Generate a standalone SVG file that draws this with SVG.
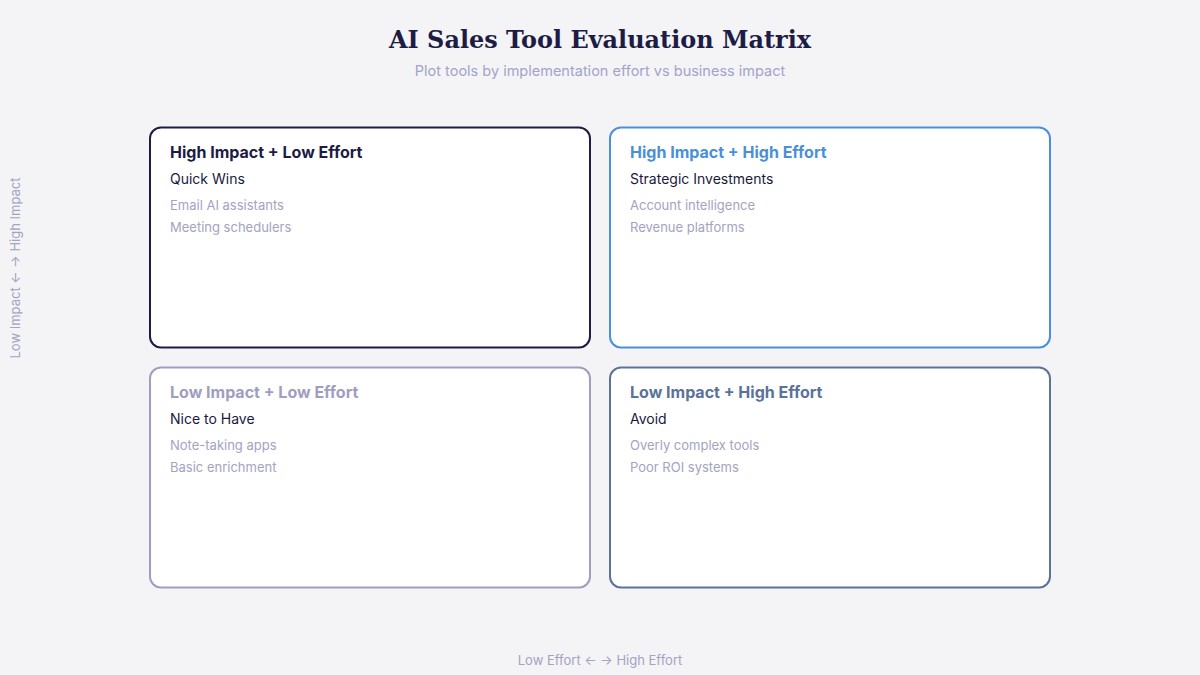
<svg xmlns="http://www.w3.org/2000/svg" width="1200" height="675" viewBox="0 0 1200 675">
  <style>
    .card { fill: #ffffff; stroke-width: 2; }
    .h { font-family: Inter, "Liberation Sans", sans-serif; font-size: 16px; font-weight: 700; }
    .sub { font-family: Inter, "Liberation Sans", sans-serif; font-size: 14px; fill: #1a1a40; }
    .item { font-family: Inter, "Liberation Sans", sans-serif; font-size: 13px; fill: #a3a3c2; }
    .axis { font-family: Inter, "Liberation Sans", sans-serif; font-size: 13px; fill: #a3a3c2; }
  </style>
  <rect x="0" y="0" width="1200" height="675" fill="#f4f4f6"/>
  <text x="600" y="48" text-anchor="middle" font-family="'DejaVu Serif', 'Liberation Serif', serif" font-size="25" font-weight="700" fill="#1c1c45" textLength="422" lengthAdjust="spacingAndGlyphs">AI Sales Tool Evaluation Matrix</text>
  <text x="600" y="76" text-anchor="middle" font-family="Inter, 'Liberation Sans', sans-serif" font-size="14.5" fill="#a3a3c8">Plot tools by implementation effort vs business impact</text>

  <g id="q1">
    <rect class="card" x="150" y="127.5" width="440" height="220" rx="11" stroke="#1c1c45"/>
    <text class="h" x="170" y="158" fill="#1c1c45">High Impact + Low Effort</text>
    <text class="sub" x="170" y="184">Quick Wins</text>
    <text class="item" x="170" y="210">Email AI assistants</text>
    <text class="item" x="170" y="232">Meeting schedulers</text>
  </g>
  <g id="q2">
    <rect class="card" x="610" y="127.5" width="440" height="220" rx="11" stroke="#4a90d9"/>
    <text class="h" x="630" y="158" fill="#4a90d9">High Impact + High Effort</text>
    <text class="sub" x="630" y="184">Strategic Investments</text>
    <text class="item" x="630" y="210">Account intelligence</text>
    <text class="item" x="630" y="232">Revenue platforms</text>
  </g>
  <g id="q3">
    <rect class="card" x="150" y="367.5" width="440" height="220" rx="11" stroke="#a09ec0"/>
    <text class="h" x="170" y="398" fill="#a09ec0">Low Impact + Low Effort</text>
    <text class="sub" x="170" y="424">Nice to Have</text>
    <text class="item" x="170" y="450">Note-taking apps</text>
    <text class="item" x="170" y="472">Basic enrichment</text>
  </g>
  <g id="q4">
    <rect class="card" x="610" y="367.5" width="440" height="220" rx="11" stroke="#5a7398"/>
    <text class="h" x="630" y="398" fill="#5a7398">Low Impact + High Effort</text>
    <text class="sub" x="630" y="424">Avoid</text>
    <text class="item" x="630" y="450">Overly complex tools</text>
    <text class="item" x="630" y="472">Poor ROI systems</text>
  </g>

  <g id="axes">
    <text class="axis" x="600" y="665" text-anchor="middle">Low Effort ← → High Effort</text>
    <text class="axis" transform="translate(20 268) rotate(-90)" text-anchor="middle">Low Impact ← → High Impact</text>
  </g>
</svg>
